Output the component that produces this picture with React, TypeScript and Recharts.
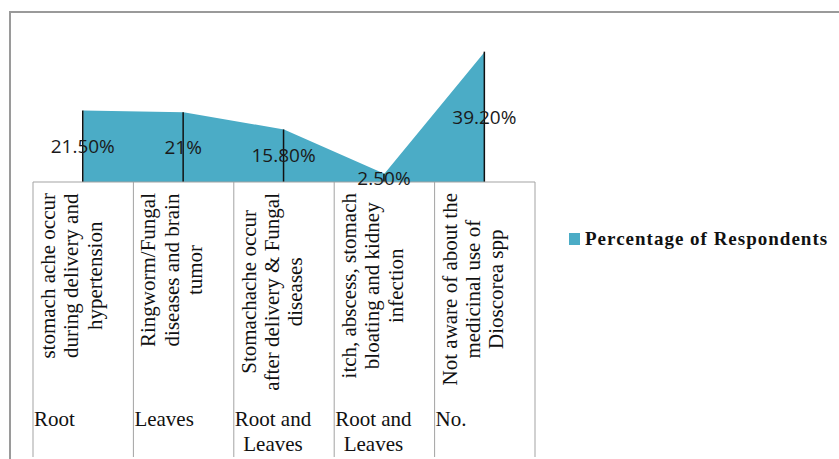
import React from "react";
import { ComposedChart, Area, Bar, XAxis, YAxis, LabelList, Legend } from "recharts";

// ---------- data ----------
const categories = [
  "stomach ache occur during delivery and hypertension",
  "Ringworm/Fungal diseases and brain tumor",
  "Stomachache occur after delivery & Fungal diseases",
  "itch, abscess, stomach bloating and kidney infection",
  "Not aware of about the medicinal use of Dioscorea spp",
];
const categoryTickLines = [
  ["stomach ache occur", "during delivery and", "hypertension"],
  ["Ringworm/Fungal", "diseases and brain", "tumor"],
  ["Stomachache occur", "after delivery & Fungal", "diseases"],
  ["itch, abscess, stomach", "bloating and kidney", "infection"],
  ["Not aware of about the", "medicinal use of", "Dioscorea spp"],
];
const partUsedLines = [["Root"], ["Leaves"], ["Root and", "Leaves"], ["Root and", "Leaves"], ["No."]];
const percentageOfRespondents = [21.5, 21, 15.8, 2.5, 39.2];
const seriesName = "Percentage of Respondents";

const data = categories.map((c, i) => ({ name: c, value: percentageOfRespondents[i] }));

// ---------- layout / style ----------
const W = 839;
const H = 459;
const PLOT_LEFT = 33;
const PLOT_RIGHT = 535;
const BASE_Y = 182;
const TOP_Y = 49;
const BOX_BOTTOM = 457;
const GRID = "#a3a3a3";
const FILL = "#4BACC6";
const SERIF = '"Liberation Serif", "Times New Roman", serif';
const TICK_FS = 21;
const TICK_LS = 0;

let ctx: CanvasRenderingContext2D | null = null;
function measure(text: string, font: string, ls: number) {
  if (!ctx) ctx = document.createElement("canvas").getContext("2d");
  if (!ctx) return text.length * 9;
  ctx.font = font;
  return ctx.measureText(text).width + ls * text.length;
}

function CategoryTick(props: any) {
  const { x, y, payload } = props;
  const i = categories.indexOf(payload.value);
  if (i < 0) return null;
  const band = (PLOT_RIGHT - PLOT_LEFT) / categories.length;
  const left = x - band / 2;
  const right = x + band / 2;
  const font = `${TICK_FS}px ${SERIF}`;
  const lines = categoryTickLines[i];
  const maxW = Math.max(...lines.map((l) => measure(l, font, TICK_LS)));
  const cy = y + 11 + maxW / 2;
  const parts = partUsedLines[i];
  const pMax = Math.max(...parts.map((p) => measure(p, font, TICK_LS)));
  const textStyle = { fontFamily: SERIF, fontSize: TICK_FS, letterSpacing: TICK_LS };
  return (
    <g>
      <line x1={left} y1={y} x2={left} y2={BOX_BOTTOM} stroke={GRID} strokeWidth={1} />
      {i === categories.length - 1 && (
        <line x1={right} y1={y} x2={right} y2={BOX_BOTTOM} stroke={GRID} strokeWidth={1} />
      )}
      {lines.map((l, k) => {
        const bx = left + 22 + k * 23.3;
        return (
          <text
            key={k}
            x={bx}
            y={cy}
            transform={`rotate(-90 ${bx} ${cy})`}
            textAnchor="middle"
            fill="#111"
            style={textStyle}
          >
            {l}
          </text>
        );
      })}
      {parts.map((p, k) => (
        <text key={"p" + k} x={left + 1 + pMax / 2} y={426 + k * 25} textAnchor="middle" fill="#111" style={textStyle}>
          {p}
        </text>
      ))}
    </g>
  );
}

function LegendContent(props: any) {
  const items = (props.payload || []).filter((p: any) => p.type !== "none");
  return (
    <svg width={270} height={30} style={{ display: "block" }}>
      {items.map((p: any, k: number) => (
        <g key={k}>
          <rect x={0} y={5} width={11} height={12} fill={FILL} />
          <text
            x={16}
            y={17}
            fill="#111"
            style={{ fontFamily: SERIF, fontSize: 19, fontWeight: "bold", letterSpacing: 1 }}
          >
            {p.value}
          </text>
        </g>
      ))}
    </svg>
  );
}

const fmt = (v: any) => {
  const n = Number(v);
  return Number.isInteger(n) ? `${n}%` : `${n.toFixed(2)}%`;
};

export default function App() {
  return (
    <div style={{ position: "absolute", left: 0, top: 0, width: W, height: H, background: "#fff" }}>
      <div
        style={{
          position: "absolute",
          left: 9,
          top: 11,
          width: W,
          height: H,
          borderTop: "2px solid #9a9a9a",
          borderLeft: "2px solid #9a9a9a",
          boxSizing: "border-box",
        }}
      />
      <ComposedChart
        width={W}
        height={H}
        data={data}
        margin={{ top: TOP_Y, left: PLOT_LEFT, right: W - PLOT_RIGHT, bottom: 0 }}
      >
        <XAxis
          dataKey="name"
          height={H - BASE_Y}
          tickSize={0}
          tickMargin={0}
          tickLine={false}
          axisLine={{ stroke: GRID, strokeWidth: 1 }}
          interval={0}
          tick={<CategoryTick />}
        />
        <YAxis hide width={0} domain={[0, 40]} />
        <Area
          type="linear"
          dataKey="value"
          name={seriesName}
          fill={FILL}
          fillOpacity={1}
          stroke="none"
          isAnimationActive={false}
          dot={false}
          activeDot={false}
        />
        <Bar dataKey="value" fill="#111" barSize={1.5} legendType="none" isAnimationActive={false}>
          <LabelList
            dataKey="value"
            position="center"
            formatter={fmt}
            fill="#1a1a1a"
            style={{ fontFamily: '"Open Sans", sans-serif', fontSize: 19 }}
          />
        </Bar>
        <Legend
          layout="vertical"
          align="center"
          verticalAlign="middle"
          wrapperStyle={{ left: 569, top: 228, width: 270 }}
          content={<LegendContent />}
        />
      </ComposedChart>
    </div>
  );
}
